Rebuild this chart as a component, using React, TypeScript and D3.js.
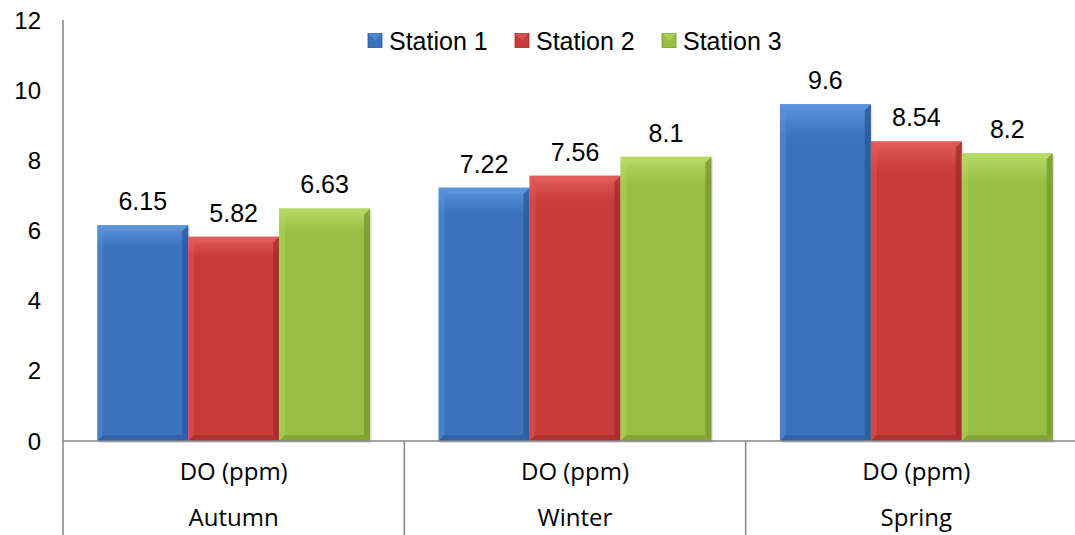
import React from "react";
import * as d3 from "d3";

const seasons = ["Autumn", "Winter", "Spring"];
const parameter = "DO (ppm)";
const stations = ["Station 1", "Station 2", "Station 3"];
const station1 = [6.15, 7.22, 9.6];
const station2 = [5.82, 7.56, 8.54];
const station3 = [6.63, 8.1, 8.2];
const yTicks = [0, 2, 4, 6, 8, 10, 12];

const palette = [
  { main: "#3A72BD", light: "#5B95DC", dark: "#2A5896" },
  { main: "#C93A3A", light: "#E25C5C", dark: "#A02B2B" },
  { main: "#98BF44", light: "#B6DA66", dark: "#76962F" },
];

const W = 1075;
const H = 535;
const left = 63;
const right = 1087;
const top = 20;
const bottom = 441;
const font = "Arial, 'Liberation Sans', sans-serif";
const catFont = "'Open Sans', 'Noto Sans', sans-serif";

export default function App() {
  const series = [station1, station2, station3];
  const y = d3.scaleLinear().domain([0, 12]).range([bottom, top]);
  const x0 = d3.scaleBand<string>().domain(seasons).range([left, right]).paddingInner(0).paddingOuter(0);
  const x1 = d3
    .scaleBand<string>()
    .domain(stations)
    .range([0, x0.bandwidth()])
    .paddingInner(0)
    .paddingOuter(0.377);

  const bev = 6;

  return (
    <svg width={W} height={H} style={{ display: "block", position: "absolute", left: 0, top: 0 }}>
      <defs>
        {palette.map((c, i) => (
          <linearGradient key={i} id={`g${i}`} x1="0" x2="0" y1="0" y2="1">
            <stop offset="0" stopColor={c.light} />
            <stop offset="0.1" stopColor={c.main} />
            <stop offset="1" stopColor={c.main} />
          </linearGradient>
        ))}
        {palette.map((c, i) => (
          <linearGradient key={`lg${i}`} id={`lg${i}`} x1="0" x2="0" y1="0" y2="1">
            <stop offset="0" stopColor={c.light} />
            <stop offset="1" stopColor={c.light} stopOpacity="0.6" />
          </linearGradient>
        ))}
      </defs>

      {/* bars with bevelled faces */}
      {seasons.map((s, si) =>
        stations.map((st, k) => {
          const v = series[k][si];
          const bx = (x0(s) as number) + (x1(st) as number);
          const bw = x1.bandwidth();
          const by = y(v);
          const bh = bottom - by;
          const c = palette[k];
          return (
            <g key={`${s}-${st}`}>
              <rect x={bx + 1.5} y={by + 2} width={bw} height={bh} fill="#000" opacity={0.12} />
              <rect x={bx} y={by} width={bw} height={bh} fill={`url(#g${k})`} />
              <polygon
                points={`${bx},${by} ${bx + bw},${by} ${bx + bw - bev},${by + bev} ${bx + bev},${by + bev}`}
                fill={`url(#lg${k})`}
              />
              <polygon
                points={`${bx},${by} ${bx + bev},${by + bev} ${bx + bev},${bottom - bev} ${bx},${bottom}`}
                fill={c.light}
                opacity={0.4}
              />
              <polygon
                points={`${bx + bw},${by} ${bx + bw - bev},${by + bev} ${bx + bw - bev},${bottom - bev} ${bx + bw},${bottom}`}
                fill={c.dark}
                opacity={0.75}
              />
              <polygon
                points={`${bx},${bottom} ${bx + bev},${bottom - bev} ${bx + bw - bev},${bottom - bev} ${bx + bw},${bottom}`}
                fill={c.dark}
                opacity={0.6}
              />
              <text
                x={bx + bw / 2}
                y={by - 15}
                textAnchor="middle"
                fontFamily={font}
                fontSize={25}
                fill="#000"
              >
                {v}
              </text>
            </g>
          );
        })
      )}

      {/* axes */}
      <line x1={left} x2={left} y1={top} y2={H} stroke="#868686" strokeWidth={1.5} />
      <line x1={left} x2={right} y1={bottom} y2={bottom} stroke="#868686" strokeWidth={1.5} />
      {seasons.slice(1).map((s) => (
        <line
          key={s}
          x1={x0(s) as number}
          x2={x0(s) as number}
          y1={bottom}
          y2={H}
          stroke="#868686"
          strokeWidth={1.5}
        />
      ))}

      {yTicks.map((t) => (
        <text
          key={t}
          x={41}
          y={y(t)}
          dy="0.36em"
          textAnchor="end"
          fontFamily={font}
          fontSize={24}
          fill="#000"
        >
          {t}
        </text>
      ))}

      {seasons.map((s) => {
        const cx = (x0(s) as number) + x0.bandwidth() / 2;
        return (
          <g key={s}>
            <text x={cx} y={480} textAnchor="middle" fontFamily={catFont} fontSize={24} fill="#000">
              {parameter}
            </text>
            <text x={cx} y={526} textAnchor="middle" fontFamily={catFont} fontSize={24} fill="#000">
              {s}
            </text>
          </g>
        );
      })}

      {/* legend */}
      {stations.map((st, k) => {
        const lx = [368, 515, 662][k];
        const c = palette[k];
        return (
          <g key={st}>
            <rect x={lx} y={33.5} width={14} height={14} fill={c.main} stroke={c.dark} strokeWidth={0.8} />
            <polygon points={`${lx},${33.5} ${lx + 14},${33.5} ${lx + 7},${40.5}`} fill={c.light} opacity={0.6} />
            <text x={lx + 21} y={40.5} dy="0.36em" fontFamily={font} fontSize={25} fill="#000">
              {st}
            </text>
          </g>
        );
      })}
    </svg>
  );
}
